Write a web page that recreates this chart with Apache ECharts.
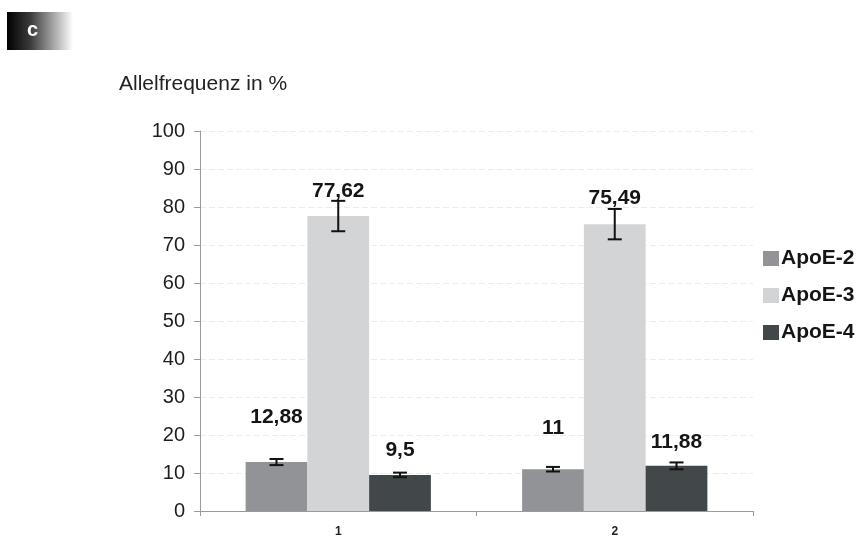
<!DOCTYPE html>
<html>
<head>
<meta charset="utf-8">
<script src="https://cdn.jsdelivr.net/npm/echarts@6/dist/echarts.min.js"></script>
<style>
  html, body { margin: 0; padding: 0; background: #fff; }
  #chart { width: 857px; height: 541px; }
</style>
</head>
<body>
<div id="chart"></div>
<script>
// Allele frequencies (%) per group, with standard error
const groups = ['1', '2'];
const alleles = ['ApoE-2', 'ApoE-3', 'ApoE-4'];
const apoE2 = [12.88, 11];
const apoE3 = [77.62, 75.49];
const apoE4 = [9.5, 11.88];
const errE2 = [0.8, 0.6];
const errE3 = [4.0, 4.0];
const errE4 = [0.6, 0.9];
const yTicks = [0, 10, 20, 30, 40, 50, 60, 70, 80, 90, 100];

const values = [apoE2, apoE3, apoE4];
const errors = [errE2, errE3, errE4];
const colors = ['#919396', '#d3d4d6', '#42474a'];
// extra lift of each value label above its bar, px
const labelLift = [[34, 30], [14, 15], [14, 13]];

const gapRatio = 0.33;
const FONT = 'Liberation Sans, Arial, sans-serif';

const chart = echarts.init(document.getElementById('chart'));

const barSeries = alleles.map((name, si) => ({
  name,
  type: 'bar',
  barGap: '0%',
  barCategoryGap: (gapRatio * 100) + '%',
  itemStyle: { color: colors[si] },
  data: values[si].map((v, gi) => ({
    value: v,
    label: { distance: labelLift[si][gi] }
  })),
  label: {
    show: true,
    position: 'top',
    fontFamily: FONT,
    fontWeight: 'bold',
    fontSize: 21,
    color: '#151515',
    formatter: p => String(p.value).replace('.', ',')
  },
  z: 2
}));

const errorSeries = alleles.map((name, si) => ({
  name: name + ' err',
  type: 'custom',
  z: 5,
  data: values[si].map((v, gi) => [gi, v, errors[si][gi]]),
  renderItem: (params, api) => {
    const gi = api.value(0);
    const v = api.value(1);
    const e = api.value(2);
    const band = api.size([1, 0])[0];
    const bw = band * (1 - gapRatio) / alleles.length;
    const center = api.coord([gi, 0])[0] + (si - (alleles.length - 1) / 2) * bw;
    const top = api.coord([gi, v + e])[1];
    const bot = api.coord([gi, v - e])[1];
    const half = 7;
    const style = { stroke: '#111', lineWidth: 2 };
    return {
      type: 'group',
      children: [
        { type: 'line', shape: { x1: center, y1: top, x2: center, y2: bot }, style },
        { type: 'line', shape: { x1: center - half, y1: top, x2: center + half, y2: top }, style },
        { type: 'line', shape: { x1: center - half, y1: bot, x2: center + half, y2: bot }, style }
      ]
    };
  }
}));

chart.setOption({
  animation: false,
  backgroundColor: '#fff',
  graphic: [
    {
      type: 'rect',
      left: 7, top: 12,
      shape: { width: 66, height: 38 },
      style: {
        fill: new echarts.graphic.LinearGradient(0, 0, 1, 0, [
          { offset: 0, color: '#000' },
          { offset: 0.35, color: '#3a3a3a' },
          { offset: 1, color: '#ffffff' }
        ])
      }
    },
    {
      type: 'text',
      left: 27, top: 20,
      style: {
        text: 'c',
        fill: '#fff',
        font: 'bold 20px ' + FONT
      }
    },
    {
      type: 'text',
      left: 119, top: 74,
      style: {
        text: 'Allelfrequenz in %',
        fill: '#222',
        font: '21px ' + FONT
      }
    }
  ],
  legend: {
    orient: 'vertical',
    left: 758, top: 243,
    itemWidth: 16, itemHeight: 15,
    itemGap: 16,
    icon: 'rect',
    data: alleles,
    textStyle: {
      fontFamily: FONT,
      fontWeight: 'bold',
      fontSize: 21,
      color: '#151515',
      padding: [0, 0, 0, -3]
    }
  },
  grid: { left: 200, right: 104, top: 131, bottom: 30 },
  xAxis: {
    type: 'category',
    data: groups,
    axisLine: { lineStyle: { color: '#9a9a9a', width: 1 } },
    axisTick: { show: true, length: 5, lineStyle: { color: '#9a9a9a' } },
    axisLabel: {
      margin: 15,
      fontFamily: FONT,
      fontWeight: 'bold',
      fontSize: 12,
      color: '#222'
    }
  },
  yAxis: {
    type: 'value',
    min: yTicks[0],
    max: yTicks[yTicks.length - 1],
    interval: yTicks[1] - yTicks[0],
    axisLine: { show: true, lineStyle: { color: '#9a9a9a' } },
    axisTick: { show: true, length: 6, lineStyle: { color: '#9a9a9a' } },
    axisLabel: {
      margin: 15,
      fontFamily: FONT,
      fontSize: 20,
      color: '#1e1e1e'
    },
    splitLine: { show: true, lineStyle: { color: '#ececec', type: [6, 3] } }
  },
  series: [...barSeries, ...errorSeries]
});
</script>
</body>
</html>
